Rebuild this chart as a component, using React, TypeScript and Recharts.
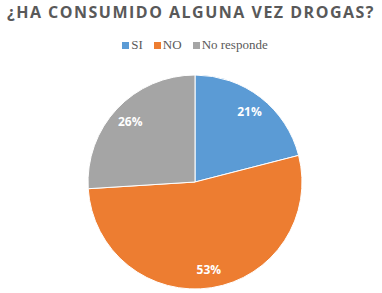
import { PieChart, Pie, Cell, Legend } from 'recharts';

const categories = ['SI', 'NO', 'No responde'];
const values = [21, 53, 26];
const colors = ['#5B9BD5', '#ED7D31', '#A5A5A5'];

const chartData = categories.map((name, i) => ({ name, value: values[i] }));

const RADIAN = Math.PI / 180;

const renderLabel = ({ cx, cy, midAngle, outerRadius, percent }: any) => {
  const r = outerRadius * 0.83;
  const x = cx + r * Math.cos(-midAngle * RADIAN);
  const y = cy + r * Math.sin(-midAngle * RADIAN);
  return (
    <text
      x={x}
      y={y}
      fill="#ffffff"
      textAnchor="middle"
      dominantBaseline="central"
      style={{ fontFamily: '"Open Sans", sans-serif', fontWeight: 700, fontSize: 12 }}
    >
      {`${Math.round(percent * 100)}%`}
    </text>
  );
};

// keep the legend in data order (recharts sorts by name otherwise)
const LegendContent = ({ payload }: any) => {
  const items = [...(payload || [])].sort(
    (a: any, b: any) => categories.indexOf(a.value) - categories.indexOf(b.value)
  );
  return (
    <div
      style={{
        display: 'flex',
        justifyContent: 'center',
        gap: 11,
        fontFamily: '"Times New Roman", "Liberation Serif", "DejaVu Serif", serif',
        fontSize: 13,
        color: '#595959',
      }}
    >
      {items.map((entry: any) => (
        <div key={entry.value} style={{ display: 'flex', alignItems: 'center' }}>
          <span style={{ display: 'inline-block', width: 7, height: 7, background: entry.color, marginRight: 2 }} />
          <span>{entry.value}</span>
        </div>
      ))}
    </div>
  );
};

const App = () => {
  return (
    <div style={{ position: 'absolute', left: 0, top: 0, width: 382, height: 293, background: '#fff' }}>
      <div
        style={{
          position: 'absolute',
          left: 0,
          top: 1,
          width: 382,
          textAlign: 'center',
          fontFamily: '"Open Sans", sans-serif',
          fontWeight: 700,
          fontSize: 16,
          letterSpacing: 1.5,
          color: '#595959',
          whiteSpace: 'nowrap',
        }}
      >
        ¿HA CONSUMIDO ALGUNA VEZ DROGAS?
      </div>
      <PieChart width={382} height={293} margin={{ top: 0, right: 0, bottom: 0, left: 0 }}>
        <Legend
          verticalAlign="top"
          align="center"
          content={<LegendContent />}
          wrapperStyle={{ top: 37, left: 4, width: 382 }}
        />
        <Pie
          data={chartData}
          dataKey="value"
          nameKey="name"
          cx={195}
          cy={166}
          outerRadius={107}
          startAngle={90}
          endAngle={-270}
          stroke="#ffffff"
          strokeWidth={1}
          label={renderLabel}
          labelLine={false}
          isAnimationActive={false}
        >
          {chartData.map((d, i) => (
            <Cell key={d.name} fill={colors[i]} />
          ))}
        </Pie>
      </PieChart>
    </div>
  );
};

export default App;
